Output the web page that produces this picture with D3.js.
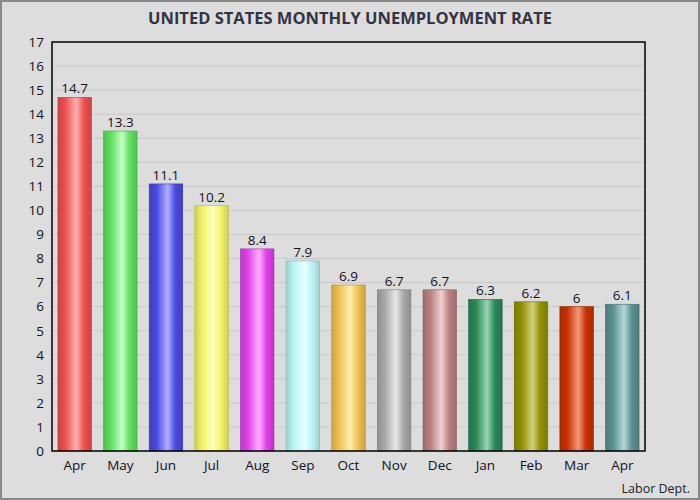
<!DOCTYPE html>
<html><head><meta charset="utf-8">
<script src="https://cdn.jsdelivr.net/npm/d3@7"></script>
<style>
html,body{margin:0;padding:0;background:#dddddd;}
svg{display:block;}
</style></head><body>
<svg id="c" width="700" height="500"></svg>
<script>
const months = ["Apr","May","Jun","Jul","Aug","Sep","Oct","Nov","Dec","Jan","Feb","Mar","Apr"];
const rates = [14.7,13.3,11.1,10.2,8.4,7.9,6.9,6.7,6.7,6.3,6.2,6,6.1];
const baseColors = ["#ee4f4f","#5ee05e","#4a4ae0","#f2f266","#e040e8","#b8f4f4","#f0c050","#a8a8a8","#b88080","#2a8858","#909000","#c83000","#5a9090"];
const lightColors = ["#ffb0b0","#c4ffc4","#b0b0ff","#ffffc0","#ffb0ff","#e8ffff","#ffecb0","#e8e8e8","#f0d0d0","#98d4b4","#d4d080","#f09878","#b4d8d8"];
const yTicks = d3.range(0,18);
const title = "UNITED STATES MONTHLY UNEMPLOYMENT RATE";
const source = "Labor Dept.";

const W=700,H=500;
const m={left:52,right:55,top:42,bottom:49};
const svg=d3.select("#c");
const font="'Open Sans', 'DejaVu Sans', sans-serif";

svg.append("rect").attr("x",1).attr("y",1).attr("width",W-2).attr("height",H-2)
  .attr("fill","#dddddd").attr("stroke","#888").attr("stroke-width",2);

const x=d3.scaleBand().domain(d3.range(months.length)).range([m.left,W-m.right]).paddingInner(0.265).paddingOuter(0.13);
const y=d3.scaleLinear().domain([0,17]).range([H-m.bottom,m.top]);

const defs=svg.append("defs");
baseColors.forEach((c,i)=>{
  const g=defs.append("linearGradient").attr("id","g"+i).attr("x1","0").attr("x2","1").attr("y1","0").attr("y2","0");
  const dark=d3.color(c).darker(0.45);
  g.append("stop").attr("offset","0%").attr("stop-color",dark);
  g.append("stop").attr("offset","22%").attr("stop-color",c);
  g.append("stop").attr("offset","55%").attr("stop-color",lightColors[i]);
  g.append("stop").attr("offset","78%").attr("stop-color",c);
  g.append("stop").attr("offset","100%").attr("stop-color",dark);
});

// gridlines
svg.append("g").selectAll("line").data(yTicks.filter(d=>d>0&&d<17)).join("line")
  .attr("x1",m.left).attr("x2",W-m.right).attr("y1",d=>y(d)).attr("y2",d=>y(d))
  .attr("stroke","#c8c8c8").attr("stroke-width",1);

// bars
svg.append("g").selectAll("rect").data(rates).join("rect")
  .attr("x",(d,i)=>x(i)).attr("width",x.bandwidth())
  .attr("y",d=>y(d)).attr("height",d=>y(0)-y(d))
  .attr("fill",(d,i)=>`url(#g${i})`)
  .attr("stroke",(d,i)=>d3.color(baseColors[i]).darker(0.8)).attr("stroke-width",0.6);

// value labels
svg.append("g").selectAll("text").data(rates).join("text")
  .attr("x",(d,i)=>x(i)+x.bandwidth()/2).attr("y",d=>y(d)-4)
  .attr("text-anchor","middle").attr("font-family",font).attr("font-size",13.5)
  .attr("fill","#111122").text(d=>d);

// frame
svg.append("rect").attr("x",m.left).attr("y",m.top).attr("width",W-m.left-m.right).attr("height",H-m.top-m.bottom)
  .attr("fill","none").attr("stroke","#000").attr("stroke-width",1.5);

// y axis
const ya=svg.append("g").attr("transform",`translate(${m.left},0)`)
  .call(d3.axisLeft(y).tickValues(yTicks).tickSize(0).tickPadding(8).tickFormat(d3.format("d")));
ya.select(".domain").remove();
ya.selectAll("text").attr("font-family",font).attr("font-size",13.5).attr("fill","#111122");

// x axis
const xa=svg.append("g").attr("transform",`translate(0,${H-m.bottom})`)
  .call(d3.axisBottom(x).tickSize(0).tickPadding(9).tickFormat(i=>months[i]));
xa.select(".domain").remove();
xa.selectAll("text").attr("font-family",font).attr("font-size",13.5).attr("fill","#111122");

svg.append("text").attr("x",350).attr("y",24).attr("text-anchor","middle")
  .attr("font-family",font).attr("font-size",16.5).attr("font-weight","bold").attr("fill","#333344").text(title);

svg.append("text").attr("x",690).attr("y",493).attr("text-anchor","end")
  .attr("font-family",font).attr("font-size",12.5).attr("fill","#222").text(source);
</script></body></html>
